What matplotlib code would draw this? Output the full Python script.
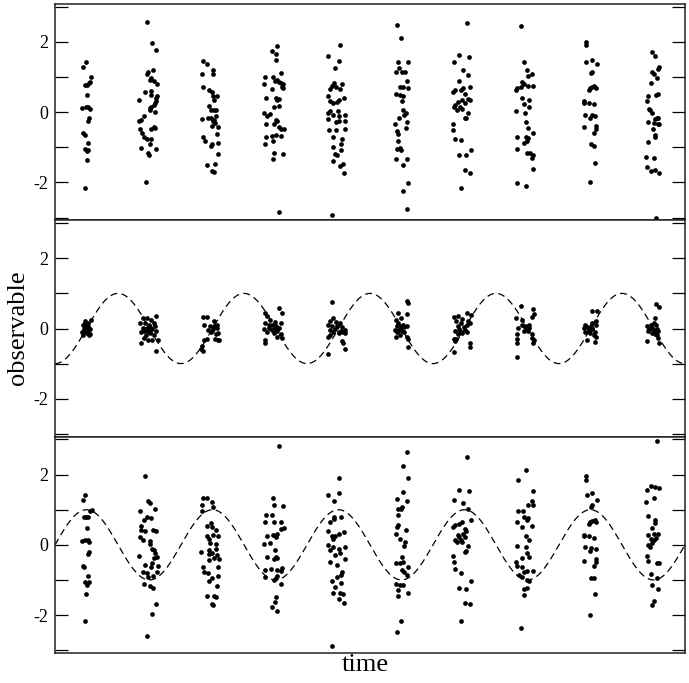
import numpy as np
import matplotlib
matplotlib.use("Agg")
import matplotlib.pyplot as plt

plt.rcParams['font.family'] = 'serif'
plt.rcParams['font.serif'] = ['Liberation Serif', 'DejaVu Serif']
plt.rcParams['axes.unicode_minus'] = False

# (time, observable), one list per panel
top_pts = [
    (.49, 1.42), (.44, 1.29), (.57, 1.00), (.55, .87), (.47, .78), (.51, .77), (.54, .83), (.51, .48), (.43, .13),
    (.49, .16), (.53, .14), (.55, .09), (.54, -.18), (.53, -.24), (.44, -.60), (.47, -.64), (.52, -.87), (.47, -1.04),
    (.53, -1.08), (.51, -1.10), (.50, -1.36), (.48, -2.15),
    (1.46, 2.57), (1.54, 1.97), (1.60, 1.76), (1.56, 1.21), (1.48, 1.13), (1.46, 1.10), (1.51, .92), (1.57, .89),
    (1.53, .96), (1.62, .79), (1.43, .58), (1.52, .60), (1.53, .50), (1.34, .35), (1.62, .45), (1.61, .39), (1.60, .31),
    (1.59, .26), (1.57, .20), (1.53, .16), (1.51, .12), (1.50, .07), (1.59, .01), (1.42, -.10), (1.37, -.22),
    (1.34, -.24), (1.57, -.43), (1.59, -.45), (1.53, -.47), (1.35, -.49), (1.38, -.60), (1.42, -.70), (1.46, -.77),
    (1.53, -.77), (1.37, -1.02), (1.60, -1.06), (1.50, -.90), (1.48, -1.17), (1.49, -1.23), (1.44, -2.00),
    (2.35, 1.47), (2.41, 1.36), (2.50, 1.21), (2.33, 1.10), (2.50, 1.10), (2.35, .73), (2.44, .62), (2.49, .58),
    (2.57, .47), (2.50, .45), (2.44, .18), (2.53, .35), (2.47, .07), (2.52, .07), (2.56, .05), (2.34, -.20),
    (2.43, -.18), (2.48, -.16), (2.50, -.24), (2.52, -.22), (2.54, -.31), (2.58, -.41), (2.49, -.39), (2.57, -.62),
    (2.35, -.70), (2.38, -.81), (2.47, -.96), (2.49, -.90), (2.59, -.89), (2.58, -1.19), (2.41, -1.50), (2.54, -1.48),
    (2.49, -1.67), (2.53, -1.70), (2.56, -.12),
    (3.52, 1.88), (3.44, 1.74), (3.50, 1.65), (3.51, 1.48), (3.58, 1.11), (3.34, 1.00), (3.46, 1.00), (3.52, .92),
    (3.49, .89), (3.59, .83), (3.56, .87), (3.62, .81), (3.32, .81), (3.60, .71), (3.44, .66), (3.62, .68), (3.35, .39),
    (3.50, .39), (3.52, .35), (3.56, .37), (3.47, .14), (3.55, .18), (3.32, -.03), (3.41, -.05), (3.37, -.12),
    (3.51, -.22), (3.53, -.26), (3.35, -.33), (3.48, -.33), (3.55, -.41), (3.59, -.47), (3.63, -.49), (3.35, -.71),
    (3.44, -.68), (3.50, -.64), (3.58, -.68), (3.34, -.90), (3.46, -.83), (3.47, -1.15), (3.62, -1.19), (3.46, -1.34),
    (3.56, -2.85),
    (4.52, 1.91), (4.34, 1.61), (4.51, 1.46), (4.45, 1.25), (4.43, .83), (4.55, .81), (4.40, .75), (4.37, .66),
    (4.52, .66), (4.46, .71), (4.33, .45), (4.37, .33), (4.50, .35), (4.59, .39), (4.42, .26), (4.48, .30), (4.36, .03),
    (4.34, -.03), (4.49, .03), (4.41, -.09), (4.51, -.12), (4.60, -.07), (4.33, -.20), (4.46, -.28), (4.50, -.24),
    (4.60, -.24), (4.35, -.50), (4.46, -.52), (4.60, -.47), (4.41, -.70), (4.56, -.77), (4.54, -.92), (4.42, -1.00),
    (4.45, -1.19), (4.47, -1.21), (4.54, -1.08), (4.42, -1.38), (4.57, -1.48), (4.53, -1.53), (4.59, -1.74),
    (4.40, -2.94),
    (5.43, 2.49), (5.49, 2.12), (5.45, 1.44), (5.61, 1.42), (5.46, 1.27), (5.42, 1.13), (5.50, 1.13), (5.56, 1.13),
    (5.58, .89), (5.48, .73), (5.53, .71), (5.60, .68), (5.41, .52), (5.48, .50), (5.53, .45), (5.50, .31), (5.53, .07),
    (5.57, -.03), (5.54, -.09), (5.46, -.16), (5.59, -.28), (5.40, -.33), (5.43, -.54), (5.45, -.62), (5.57, -.45),
    (5.45, -.81), (5.43, -1.04), (5.47, -1.02), (5.49, -1.08), (5.42, -1.32), (5.59, -1.32), (5.52, -1.50),
    (5.60, -2.03), (5.52, -2.24), (5.58, -2.75),
    (6.54, 2.54), (6.41, 1.63), (6.57, 1.57), (6.33, 1.44), (6.48, 1.19), (6.55, 1.06), (6.42, .90), (6.59, .73),
    (6.48, .68), (6.44, .64), (6.35, .64), (6.32, .58), (6.51, .52), (6.55, .37), (6.58, .35), (6.46, .35), (6.39, .30),
    (6.50, .26), (6.35, .20), (6.33, .16), (6.43, .14), (6.46, .10), (6.38, .07), (6.56, -.01), (6.53, -.16),
    (6.51, -.18), (6.32, -.35), (6.32, -.52), (6.35, -.75), (6.44, -.79), (6.60, -1.08), (6.42, -1.23), (6.52, -1.23),
    (6.51, -1.65), (6.58, -1.72), (6.44, -2.15),
    (7.40, 2.45), (7.44, 1.44), (7.49, 1.21), (7.57, 1.10), (7.51, 1.04), (7.42, .87), (7.45, .79), (7.51, .75),
    (7.58, .75), (7.34, .70), (7.39, .71), (7.32, .62), (7.41, .39), (7.52, .35), (7.44, .24), (7.52, .16), (7.32, .03),
    (7.46, -.03), (7.48, -.28), (7.50, -.45), (7.58, -.60), (7.34, -.70), (7.47, -.70), (7.51, -.73), (7.49, -.83),
    (7.44, -.89), (7.33, -1.04), (7.49, -1.15), (7.54, -1.17), (7.58, -1.21), (7.57, -1.30), (7.59, -1.61),
    (7.34, -2.01), (7.47, -2.10),
    (8.43, 2.01), (8.43, 1.90), (8.43, 1.44), (8.52, 1.48), (8.60, 1.36), (8.52, 1.15), (8.50, 1.11), (8.56, .75),
    (8.53, .71), (8.49, .68), (8.47, .62), (8.58, .70), (8.40, .31), (8.47, .26), (8.55, .22), (8.39, .26), (8.42, -.07),
    (8.52, -.09), (8.57, -.12), (8.49, -.16), (8.40, -.43), (8.58, -.39), (8.59, -.49), (8.55, -.58), (8.50, -.92),
    (8.55, -.96), (8.57, -1.44), (8.49, -1.98),
    (9.48, 1.72), (9.52, 1.59), (9.58, 1.30), (9.57, 1.23), (9.47, 1.13), (9.50, 1.10), (9.55, .96), (9.46, .83),
    (9.57, .52), (9.54, .50), (9.42, .47), (9.40, .31), (9.43, .10), (9.44, .05), (9.48, -.03), (9.55, -.18),
    (9.52, -.20), (9.57, -.16), (9.42, -.28), (9.51, -.31), (9.57, -.35), (9.59, -.35), (9.49, -.49), (9.53, -.64),
    (9.52, -.70), (9.41, -.85), (9.38, -1.27), (9.50, -1.30), (9.40, -1.57), (9.46, -1.67), (9.52, -1.65),
    (9.58, -1.72), (9.54, -3.02),
]

mid_pts = [
    (.44, .11), (.48, .15), (.51, .11), (.53, .06), (.49, .02), (.46, -.02), (.51, -.04), (.55, -.02), (.48, -.08),
    (.53, -.10), (.44, -.19), (.55, -.15), (.50, .02), (.57, .25), (.47, .08), (.52, .17), (.43, -.10), (.54, -.19),
    (.50, -.13), (.47, .21),
    (1.39, .29), (1.46, .29), (1.60, .36), (1.53, .23), (1.35, .17), (1.43, .15), (1.49, .11), (1.57, .15), (1.59, .08),
    (1.40, .02), (1.46, .02), (1.51, .04), (1.54, -.02), (1.37, -.10), (1.42, -.08), (1.48, -.08), (1.60, -.08),
    (1.51, -.13), (1.57, -.19), (1.44, -.19), (1.37, -.40), (1.47, -.34), (1.54, -.32), (1.63, -.34), (1.61, -.63),
    (1.41, -.27), (1.50, -.04),
    (2.35, .34), (2.41, .34), (2.53, .21), (2.37, .11), (2.46, .08), (2.52, .06), (2.57, .02), (2.43, -.04),
    (2.49, -.08), (2.59, -.13), (2.41, -.29), (2.54, -.29), (2.58, -.34), (2.36, -.34), (2.33, -.51), (2.31, -.59),
    (2.35, -.65), (2.47, -.11), (2.51, -.02), (2.57, .11), (2.56, -.15), (2.60, -.34),
    (3.56, .59), (3.33, .44), (3.61, .44), (3.37, .36), (3.42, .23), (3.34, .15), (3.49, .19), (3.58, .17), (3.44, .11),
    (3.51, .06), (3.40, .02), (3.47, -.02), (3.56, .02), (3.32, -.02), (3.52, -.08), (3.37, -.11), (3.47, -.13),
    (3.58, -.17), (3.60, -.27), (3.53, -.23), (3.34, -.32), (3.34, -.42), (3.44, -.04), (3.50, -.02), (3.39, .11),
    (4.40, .76), (4.41, .29), (4.36, .21), (4.46, .19), (4.52, .15), (4.34, .10), (4.40, .08), (4.48, .06), (4.56, .04),
    (4.60, -.04), (4.37, -.04), (4.42, -.11), (4.50, -.10), (4.57, -.11), (4.37, -.19), (4.51, -.13), (4.34, -.23),
    (4.60, -.13), (4.55, -.36), (4.57, -.42), (4.60, -.57), (4.34, -.74), (4.45, -.02), (4.54, -.06),
    (5.59, .78), (5.60, .72), (5.44, .44), (5.59, .42), (5.41, .25), (5.49, .30), (5.45, .17), (5.52, .11), (5.43, .06),
    (5.49, .02), (5.54, .04), (5.59, .06), (5.40, -.04), (5.46, -.04), (5.51, -.08), (5.43, -.11), (5.54, -.11),
    (5.47, -.19), (5.41, -.25), (5.59, -.25), (5.60, -.29), (5.61, -.53), (5.50, .08), (5.45, .11),
    (6.34, .34), (6.39, .36), (6.46, .27), (6.54, .44), (6.60, .38), (6.36, .21), (6.44, .15), (6.56, .21), (6.59, .17),
    (6.54, .10), (6.40, .06), (6.49, .04), (6.35, -.08), (6.43, -.08), (6.51, -.04), (6.46, -.13), (6.54, -.10),
    (6.39, -.17), (6.37, -.30), (6.33, -.30), (6.35, -.36), (6.59, -.40), (6.58, -.53), (6.33, -.67), (6.41, -.02),
    (7.40, .65), (7.58, .55), (7.60, .40), (7.57, .34), (7.32, .30), (7.41, .23), (7.35, .02), (7.44, .06), (7.49, .08),
    (7.53, .02), (7.45, -.06), (7.48, -.02), (7.51, -.08), (7.57, -.17), (7.33, -.15), (7.57, -.27), (7.60, -.32),
    (7.34, -.30), (7.34, -.42), (7.59, -.40), (7.34, -.82), (7.42, .11), (7.52, .11),
    (8.52, .50), (8.60, .50), (8.58, .21), (8.53, .15), (8.42, .11), (8.51, .08), (8.58, .10), (8.39, .02), (8.45, .04),
    (8.53, -.02), (8.47, -.08), (8.57, -.10), (8.41, -.11), (8.49, -.13), (8.55, -.19), (8.58, -.23), (8.44, -.32),
    (8.57, -.38), (8.47, -.04), (8.52, .02),
    (9.54, .69), (9.59, .61), (9.53, .29), (9.50, .15), (9.46, .11), (9.54, .10), (9.40, .06), (9.48, .02), (9.56, .00),
    (9.42, -.06), (9.51, -.10), (9.57, -.08), (9.47, -.13), (9.53, -.15), (9.55, -.19), (9.57, -.27), (9.39, -.36),
    (9.58, -.40), (9.43, -.02), (9.50, -.04),
]

bot_pts = [
    (.48, 1.41), (.44, 1.28), (.59, .99), (.56, .95), (.49, .80), (.52, .80), (.46, .78), (.51, .47), (.43, .11),
    (.48, .14), (.52, .13), (.54, .07), (.54, -.20), (.53, -.26), (.44, -.61), (.46, -.64), (.52, -.88), (.47, -1.05),
    (.54, -1.07), (.51, -1.13), (.49, -1.39), (.47, -2.18),
    (1.43, 1.97), (1.48, 1.24), (1.50, 1.18), (1.35, .95), (1.59, 1.01), (1.46, .80), (1.53, .76), (1.41, .70),
    (1.36, .53), (1.37, .43), (1.43, .39), (1.56, .43), (1.60, .38), (1.35, .22), (1.39, .14), (1.51, .11),
    (1.54, -.11), (1.57, -.16), (1.51, .01), (1.59, -.24), (1.62, -.34), (1.34, -.32), (1.57, -.38), (1.43, -.57),
    (1.54, -.53), (1.63, -.61), (1.52, -.64), (1.62, -.76), (1.40, -.78), (1.46, -.80), (1.55, -.88), (1.48, -.91),
    (1.41, -1.11), (1.50, -1.16), (1.56, -1.22), (1.60, -1.68), (1.54, -1.97), (1.46, -2.61),
    (2.35, 1.34), (2.42, 1.34), (2.49, 1.22), (2.33, 1.13), (2.50, 1.09), (2.34, .95), (2.47, .63), (2.42, .53),
    (2.49, .51), (2.56, .43), (2.41, .24), (2.51, .28), (2.45, .16), (2.46, .05), (2.56, .03), (2.32, -.20),
    (2.44, -.14), (2.49, -.22), (2.57, -.30), (2.45, -.26), (2.53, -.38), (2.44, -.43), (2.60, -.39), (2.35, -.64),
    (2.37, -.78), (2.43, -.80), (2.49, -.95), (2.45, -1.03), (2.59, -.88), (2.57, -1.18), (2.42, -1.47), (2.53, -1.47),
    (2.49, -1.68), (2.51, -1.72), (2.58, .24), (2.56, -.11), (2.59, -.63), (2.56, -1.49),
    (3.56, 2.82), (3.46, 1.34), (3.47, 1.14), (3.62, 1.11), (3.35, .84), (3.45, .84), (3.34, .66), (3.48, .66),
    (3.58, .64), (3.63, .47), (3.59, .45), (3.37, .26), (3.46, .28), (3.53, .32), (3.51, .22), (3.41, .05), (3.32, .01),
    (3.49, -.16), (3.37, -.36), (3.50, -.34), (3.53, -.38), (3.48, -.41), (3.60, -.66), (3.33, -.72), (3.43, -.68),
    (3.52, -.72), (3.59, -.74), (3.33, -.91), (3.52, -.88), (3.47, -.99), (3.51, -.95), (3.58, -1.11), (3.51, -1.49),
    (3.49, -1.64), (3.44, -1.76), (3.53, -1.89),
    (4.51, 1.91), (4.34, 1.43), (4.50, 1.49), (4.43, 1.24), (4.43, .80), (4.43, .74), (4.54, .78), (4.37, .66),
    (4.34, .39), (4.39, .26), (4.45, .26), (4.51, .30), (4.58, .36), (4.42, .16), (4.34, -.01), (4.42, -.07),
    (4.36, -.16), (4.50, -.13), (4.61, -.07), (4.52, -.22), (4.45, -.30), (4.60, -.41), (4.36, -.49), (4.48, -.57),
    (4.56, -.76), (4.54, -.86), (4.48, -.91), (4.40, -1.03), (4.54, -1.09), (4.45, -1.20), (4.42, -1.38), (4.52, -1.38),
    (4.57, -1.41), (4.50, -1.55), (4.59, -1.66), (4.40, -2.87),
    (5.59, 2.64), (5.53, 2.24), (5.60, 1.91), (5.52, 1.51), (5.43, 1.30), (5.59, 1.26), (5.44, 1.03), (5.49, 1.03),
    (5.51, 1.09), (5.45, .84), (5.44, .57), (5.43, .51), (5.57, .43), (5.41, .32), (5.47, .16), (5.56, .09),
    (5.54, -.03), (5.50, -.34), (5.41, -.51), (5.47, -.51), (5.53, -.49), (5.60, -.64), (5.50, -.72), (5.54, -.76),
    (5.58, -.86), (5.41, -1.11), (5.47, -1.14), (5.53, -1.14), (5.45, -1.30), (5.61, -1.36), (5.44, -1.45),
    (5.49, -2.16), (5.43, -2.47),
    (6.54, 2.51), (6.41, 1.57), (6.57, 1.53), (6.33, 1.28), (6.48, 1.18), (6.56, 1.03), (6.60, .70), (6.46, .66),
    (6.42, .59), (6.35, .57), (6.32, .51), (6.50, .45), (6.53, .38), (6.48, .32), (6.39, .28), (6.41, .22), (6.50, .22),
    (6.35, .14), (6.44, .13), (6.46, .09), (6.38, .09), (6.56, -.03), (6.53, -.18), (6.51, -.20), (6.32, -.32),
    (6.33, -.49), (6.35, -.70), (6.44, -.80), (6.61, -1.03), (6.41, -1.24), (6.52, -1.26), (6.51, -1.66), (6.59, -1.68),
    (6.44, -2.18),
    (7.47, 2.13), (7.35, 1.86), (7.59, 1.53), (7.57, 1.26), (7.50, 1.14), (7.58, 1.14), (7.43, .95), (7.35, .95),
    (7.45, .80), (7.49, .72), (7.51, .76), (7.33, .64), (7.42, .51), (7.57, .53), (7.47, .26), (7.52, .14),
    (7.33, -.03), (7.47, -.05), (7.49, -.22), (7.42, -.38), (7.52, -.34), (7.31, -.49), (7.33, -.59), (7.41, -.64),
    (7.45, -.76), (7.49, -.74), (7.58, -.74), (7.36, -.86), (7.41, -.91), (7.49, -1.01), (7.53, -1.03), (7.44, -1.26),
    (7.49, -1.24), (7.44, -1.43), (7.40, -2.38),
    (8.43, 1.97), (8.43, 1.86), (8.44, 1.41), (8.52, 1.47), (8.60, 1.28), (8.52, 1.13), (8.50, 1.09), (8.57, .70),
    (8.53, .68), (8.49, .64), (8.48, .59), (8.58, .64), (8.40, .28), (8.47, .24), (8.56, .20), (8.39, .24),
    (8.42, -.07), (8.51, -.09), (8.58, -.11), (8.49, -.18), (8.40, -.45), (8.58, -.41), (8.59, -.49), (8.55, -.59),
    (8.50, -.95), (8.56, -.95), (8.57, -1.41), (8.49, -2.00),
    (9.55, 2.95), (9.46, 1.68), (9.52, 1.64), (9.59, 1.63), (9.39, 1.55), (9.51, 1.32), (9.38, 1.22), (9.41, .82),
    (9.52, .70), (9.53, .61), (9.48, .47), (9.42, .28), (9.50, .30), (9.57, .32), (9.54, .20), (9.46, .18), (9.51, .14),
    (9.42, -.01), (9.44, -.07), (9.47, .05), (9.40, -.32), (9.42, -.47), (9.55, -.51), (9.58, -.53), (9.46, -.84),
    (9.55, -.95), (9.48, -1.13), (9.57, -1.26), (9.51, -1.59), (9.47, -1.72),
]

# model curve: unit amplitude, period 2 in time
amp = 1.0
period = 2.0
t_max = 10.0

fig = plt.figure(figsize=(6.89, 6.83), dpi=100)
gs = fig.add_gridspec(3, 1, left=55/689, right=685/689, bottom=30/683, top=679/683, hspace=0)
axes = [fig.add_subplot(gs[i]) for i in range(3)]

tc = np.linspace(0, t_max, 600)
curves = [None, -amp*np.cos(2*np.pi*tc/period), amp*np.sin(2*np.pi*tc/period)]

for ax, pts, curve in zip(axes, [top_pts, mid_pts, bot_pts], curves):
    pts = np.array(pts)
    if curve is not None:
        ax.plot(tc, curve, color='black', lw=0.9, dashes=(5.5, 3.5))
    ax.plot(pts[:, 0], pts[:, 1], 'o', color='black', ms=3.4, mew=0, clip_on=False)
    ax.set_xlim(0, t_max)
    ax.set_ylim(-3.08, 3.08)
    ax.set_xticks([])
    ax.set_yticks([-2, 0, 2])
    ax.set_yticks([-3, -1, 1, 3], minor=True)
    ax.tick_params(axis='y', which='both', direction='in', left=True, right=True,
                   length=9.5, width=0.9, labelsize=13, pad=5)
    for sp in ax.spines.values():
        sp.set_linewidth(1.1)
        sp.set_color('#222222')

fig.text(365/689, 1 - 665/683, 'time', ha='center', va='center', fontsize=19)
fig.text(18/689, 1 - 328/683, 'observable', ha='center', va='center', rotation=90, fontsize=19)

fig.savefig('out.png', dpi=100)
